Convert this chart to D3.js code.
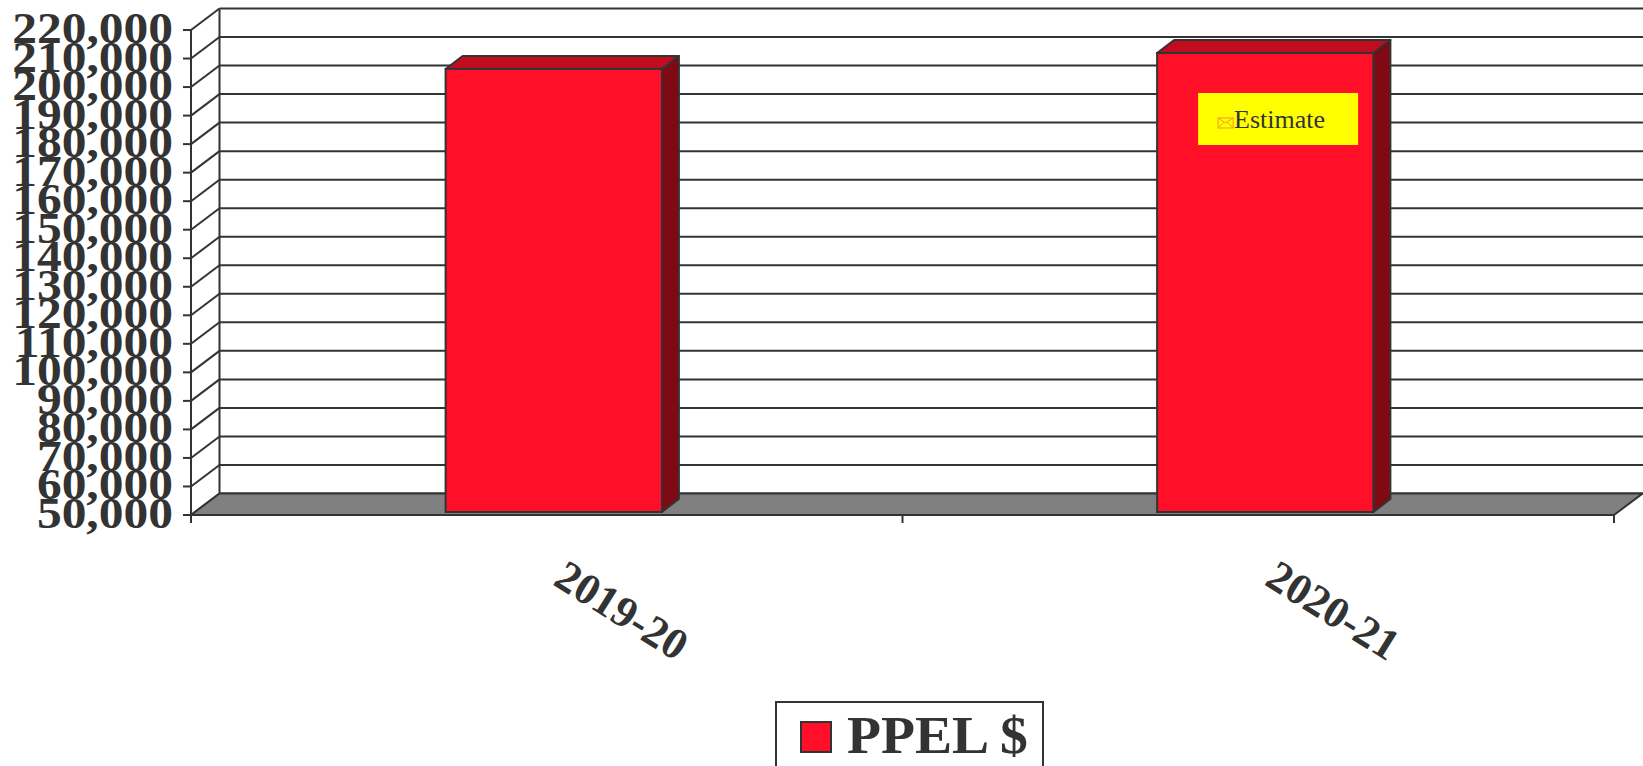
<!DOCTYPE html>
<html>
<head>
<meta charset="utf-8">
<script src="https://cdn.jsdelivr.net/npm/d3@7"></script>
<style>
  html, body { margin: 0; padding: 0; background: #ffffff; overflow: hidden; }
  svg { display: block; }
</style>
</head>
<body>
<script>
// ---- data ----
const categories = ["2019-20", "2020-21"];
const values = [205300, 210900];
const yTickValues = [50000, 60000, 70000, 80000, 90000, 100000, 110000, 120000, 130000, 140000, 150000, 160000, 170000, 180000, 190000, 200000, 210000, 220000];
const seriesName = "PPEL $";
const annotationText = "Estimate";
const annotationCategory = "2020-21";

// ---- layout ----
const W = 1643, H = 766;
const DX = 28.5, DY = -21.5;           // wall depth
const fmt = d3.format(",");

const svg = d3.select("body").append("svg").attr("width", W).attr("height", H);

const x = d3.scaleBand().domain(categories).range([191, 1614]).padding(0);
const y = d3.scaleLinear().domain([50000, 220000]).range([515, 30]);

const line = "#333333";
const g = svg.append("g");

// back wall gridlines
g.selectAll("line.grid").data(yTickValues).join("line")
  .attr("class", "grid")
  .attr("x1", 191 + DX).attr("x2", W + 10)
  .attr("y1", d => y(d) + DY).attr("y2", d => y(d) + DY)
  .attr("stroke", line).attr("stroke-width", 2);

// side wall diagonals
g.selectAll("line.diag").data(yTickValues).join("line")
  .attr("class", "diag")
  .attr("x1", 191).attr("y1", d => y(d))
  .attr("x2", 191 + DX).attr("y2", d => y(d) + DY)
  .attr("stroke", line).attr("stroke-width", 2);

// back wall left edge
g.append("line")
  .attr("x1", 191 + DX).attr("x2", 191 + DX)
  .attr("y1", y(220000) + DY).attr("y2", y(50000) + DY)
  .attr("stroke", line).attr("stroke-width", 2);

// floor
const x0 = x.range()[0], x1 = x.range()[1], yb = y(50000);
g.append("polygon")
  .attr("points", [[x0, yb], [x1, yb], [x1 + DX, yb + DY], [x0 + DX, yb + DY]].map(p => p.join(",")).join(" "))
  .attr("fill", "#808080").attr("stroke", line).attr("stroke-width", 2).attr("stroke-linejoin", "round");

// value axis line + ticks
g.append("line").attr("x1", x0).attr("x2", x0).attr("y1", y(220000)).attr("y2", yb + 8)
  .attr("stroke", line).attr("stroke-width", 2);
g.selectAll("line.ytick").data(yTickValues).join("line")
  .attr("class", "ytick")
  .attr("x1", x0 - 8).attr("x2", x0).attr("y1", d => y(d)).attr("y2", d => y(d))
  .attr("stroke", line).attr("stroke-width", 2);

// category axis ticks
const bounds = categories.map(c => x(c)).concat([x1]);
g.selectAll("line.xtick").data(bounds).join("line")
  .attr("class", "xtick")
  .attr("x1", d => d).attr("x2", d => d).attr("y1", yb).attr("y2", yb + 8)
  .attr("stroke", line).attr("stroke-width", 2);

// bars
const barW = x.bandwidth() * 0.304;
const fDx = 4, fDy = -3;     // front face depth offset
const sDx = 17, sDy = -13;   // bar depth
const bars = g.selectAll("g.bar").data(categories.map((c, i) => ({ c, v: values[i] }))).join("g").attr("class", "bar");
bars.each(function (d) {
  const gg = d3.select(this);
  const left = x(d.c) + x.bandwidth() / 2 - barW / 2 + fDx + 3;
  const right = left + barW;
  const top = y(d.v) + fDy;
  const bot = y(50000) + fDy;
  // side
  gg.append("polygon")
    .attr("points", [[right, top], [right + sDx, top + sDy], [right + sDx, bot + sDy], [right, bot]].map(p => p.join(",")).join(" "))
    .attr("fill", "#800a14").attr("stroke", line).attr("stroke-width", 2).attr("stroke-linejoin", "round");
  // top
  gg.append("polygon")
    .attr("points", [[left, top], [left + sDx, top + sDy], [right + sDx, top + sDy], [right, top]].map(p => p.join(",")).join(" "))
    .attr("fill", "#c00c1e").attr("stroke", line).attr("stroke-width", 2).attr("stroke-linejoin", "round");
  // front
  gg.append("rect")
    .attr("x", left).attr("y", top).attr("width", barW).attr("height", bot - top)
    .attr("fill", "#ff1028").attr("stroke", line).attr("stroke-width", 2);
});

// y labels
g.selectAll("text.ylab").data(yTickValues).join("text")
  .attr("class", "ylab")
  .attr("transform", d => `translate(173,${y(d) + 13}) scale(1.1,1)`)
  .attr("text-anchor", "end")
  .attr("font-family", "'Liberation Serif', 'Times New Roman', serif")
  .attr("font-weight", "bold").attr("font-size", 45).attr("fill", "#333")
  .text(d => fmt(d));

// x labels
g.selectAll("text.xlab").data(categories).join("text")
  .attr("class", "xlab")
  .attr("transform", d => `translate(${x(d) + x.bandwidth() / 2 + 5},584) rotate(32)`)
  .attr("text-anchor", "start")
  .attr("font-family", "'Liberation Serif', 'Times New Roman', serif")
  .attr("font-weight", "bold").attr("font-size", 44).attr("fill", "#333")
  .text(d => d);

// annotation
const annLeft = x(annotationCategory) + x.bandwidth() / 2 - barW / 2 + fDx + 3 + 41;
const ann = g.append("g");
ann.append("rect").attr("x", annLeft).attr("y", 93).attr("width", 160).attr("height", 52).attr("fill", "#ffff00");
const ix = annLeft + 20, iy = 118;
ann.append("rect").attr("x", ix).attr("y", iy).attr("width", 15).attr("height", 10)
  .attr("fill", "none").attr("stroke", "#f0a020").attr("stroke-width", 1);
ann.append("path").attr("d", `M${ix},${iy} L${ix + 7.5},${iy + 5} L${ix + 15},${iy} M${ix},${iy + 10} L${ix + 6},${iy + 4} M${ix + 15},${iy + 10} L${ix + 9},${iy + 4}`)
  .attr("fill", "none").attr("stroke", "#f0a020").attr("stroke-width", 1);
ann.append("text").attr("x", annLeft + 36).attr("y", 128)
  .attr("font-family", "'Liberation Serif', 'Times New Roman', serif")
  .attr("font-size", 26).attr("fill", "#333").text(annotationText);

// legend
const lg = svg.append("g");
lg.append("rect").attr("x", 776).attr("y", 702).attr("width", 267).attr("height", 90)
  .attr("fill", "#fff").attr("stroke", line).attr("stroke-width", 2);
lg.append("rect").attr("x", 801).attr("y", 722).attr("width", 30).attr("height", 30)
  .attr("fill", "#ff1028").attr("stroke", line).attr("stroke-width", 2);
lg.append("text").attr("transform", "translate(847,753) scale(1.05,1)")
  .attr("font-family", "'Liberation Serif', 'Times New Roman', serif")
  .attr("font-weight", "bold").attr("font-size", 53).attr("fill", "#333").text(seriesName);
</script>
</body>
</html>
